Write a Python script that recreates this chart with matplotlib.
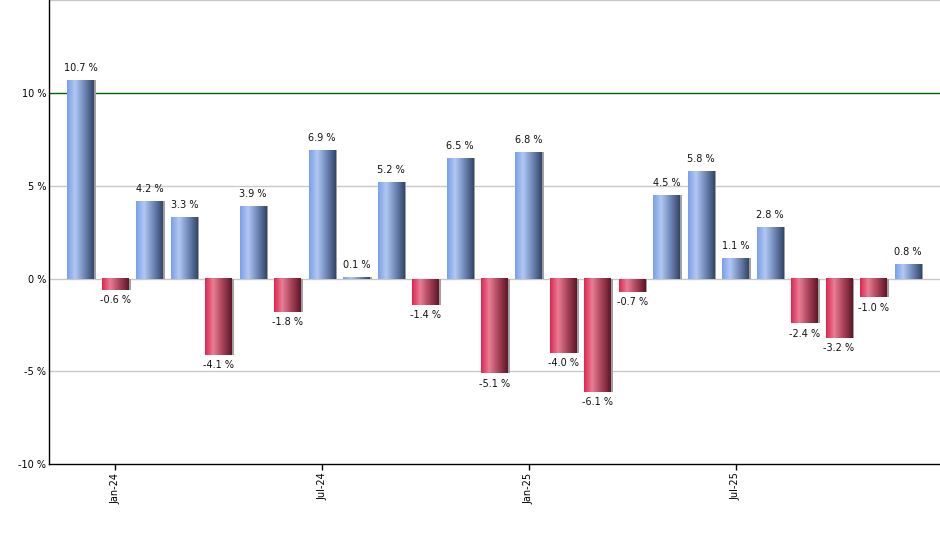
import numpy as np
import matplotlib
matplotlib.use("Agg")
import matplotlib.pyplot as plt
from matplotlib.colors import LinearSegmentedColormap
from matplotlib.patches import Rectangle

months = ["Dec-23", "Jan-24", "Feb-24", "Mar-24", "Apr-24", "May-24", "Jun-24", "Jul-24",
          "Aug-24", "Sep-24", "Oct-24", "Nov-24", "Dec-24", "Jan-25", "Feb-25", "Mar-25",
          "Apr-25", "May-25", "Jun-25", "Jul-25", "Aug-25", "Sep-25", "Oct-25", "Nov-25", "Dec-25"]
values = [10.7, -0.6, 4.2, 3.3, -4.1, 3.9, -1.8, 6.9, 0.1, 5.2, -1.4, 6.5, -5.1, 6.8,
          -4.0, -6.1, -0.7, 4.5, 5.8, 1.1, 2.8, -2.4, -3.2, -1.0, 0.8]
tick_labels = ["Jan-24", "Jul-24", "Jan-25", "Jul-25"]
y_ticks = [-10, -5, 0, 5, 10]

blue_cmap = LinearSegmentedColormap.from_list(
    "b", [(0.0, "#7aa0ea"), (0.3, "#b0c8f2"), (0.65, "#7088b8"), (0.95, "#3c5074"), (1.0, "#34466a")])
red_cmap = LinearSegmentedColormap.from_list(
    "r", [(0.0, "#de2650"), (0.3, "#e87e94"), (0.65, "#a8435a"), (0.95, "#6a1c2e"), (1.0, "#5e1828")])

fig = plt.figure(figsize=(9.4, 5.5), dpi=100)
ax = fig.add_axes([0.052, 0.156, 0.948, 0.844])
xlim = (-0.93, 24.93)

for y in [-5, 0, 5, 15]:
    ax.axhline(y, color="#c8c8c8", lw=1, zorder=0)
ax.axhline(10, color="#006400", lw=1, zorder=0)

w = 0.78
grad = np.linspace(0, 1, 64).reshape(1, -1)
xs = np.arange(len(values))
for x, v in zip(xs, values):
    cmap = blue_cmap if v >= 0 else red_cmap
    ax.add_patch(Rectangle((x - w / 2 + 0.05, min(0, v)), w, abs(v),
                           facecolor="#a0a0a0", edgecolor="none", zorder=1))
    ax.imshow(grad, cmap=cmap, aspect="auto", extent=[x - w / 2, x + w / 2, 0, v],
              origin="lower", zorder=2, interpolation="bilinear")
    lbl = f"{v:.1f} %"
    if v >= 0:
        ax.annotate(lbl, (x, v), xytext=(0, 5), textcoords="offset points",
                    ha="center", va="bottom", fontsize=7, color="#111111")
    else:
        ax.annotate(lbl, (x, v), xytext=(0, -4), textcoords="offset points",
                    ha="center", va="top", fontsize=7, color="#111111")

ax.set_xlim(*xlim)
ax.set_ylim(-10, 15)

ax.set_yticks(y_ticks)
ax.set_yticklabels([f"{t} %" for t in y_ticks], fontsize=7)
ax.tick_params(axis="y", length=0, pad=2)

tick_pos = [months.index(m) for m in tick_labels]
ax.set_xticks(tick_pos)
ax.set_xticklabels(tick_labels, rotation=90, fontsize=7)
ax.tick_params(axis="x", length=4, width=1, pad=2)

for s in ["top", "right"]:
    ax.spines[s].set_visible(False)
for s in ["left", "bottom"]:
    ax.spines[s].set_color("black")
    ax.spines[s].set_linewidth(1)

fig.savefig("out.png", dpi=100)
